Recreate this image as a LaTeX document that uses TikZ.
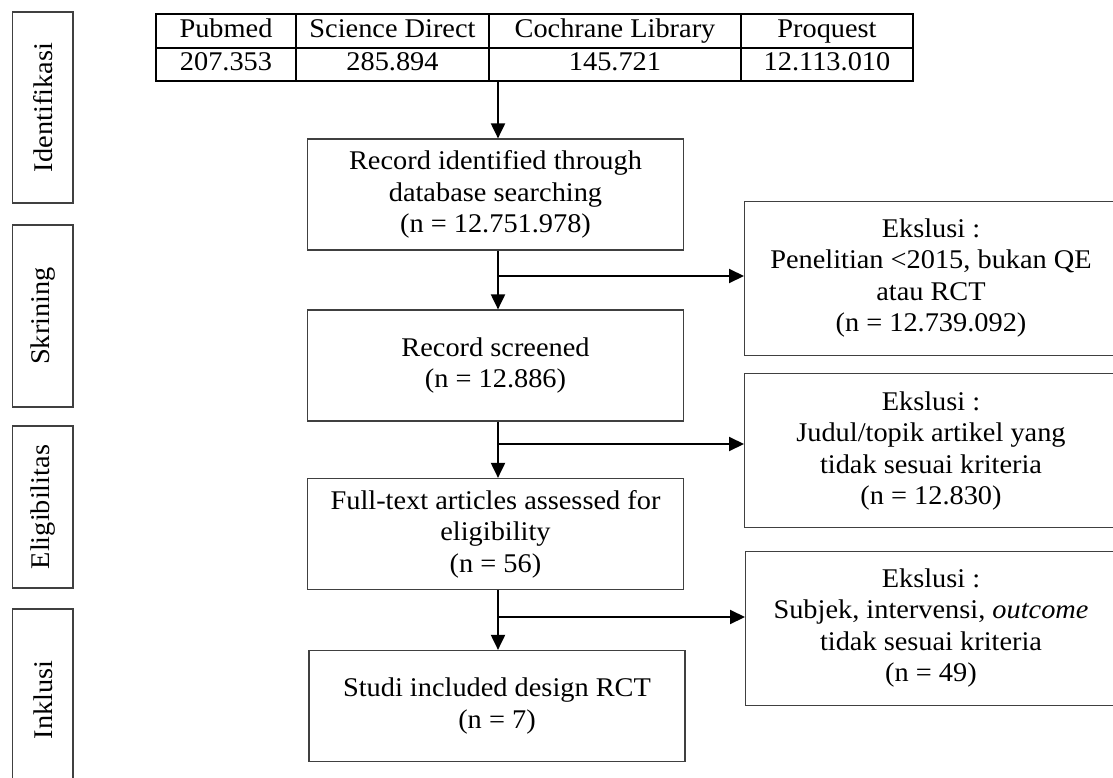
\documentclass[tikz,border=0pt]{standalone}
\usepackage{fontspec}
\setmainfont[FakeStretch=1.05]{Liberation Serif}
\usetikzlibrary{arrows.meta}

\tikzset{
  txt/.style={font=\fontsize{27}{31.5}\selectfont, align=center, inner sep=0pt},
  cell/.style={txt, text height=18pt, text depth=6pt},
  flowbox/.style={txt, draw=black!75, line width=1.2pt, minimum width=376pt, minimum height=111pt},
  sidebox/.style={txt, draw=black!75, line width=1.2pt, rotate=90, minimum height=60.5pt},
  exbox/.style={draw=black!75, line width=1.2pt, anchor=north west, minimum width=420pt, minimum height=154pt, inner sep=0pt},
  arr/.style={line width=2pt, -{Triangle[width=14pt,length=15pt]}},
}

\begin{document}
\begin{tikzpicture}[x=1pt,y=-1pt]
  \useasboundingbox (0,0) rectangle (1113,778);
  \clip (0,0) rectangle (1113,778);

  % side labels
  \node[sidebox, minimum width=191pt] (ident) at (42.8,107.5) {Identifikasi};
  \node[sidebox, minimum width=182pt] (skrin) at (42.8,316) {Skrining};
  \node[sidebox, minimum width=162pt] (elig) at (42.8,507) {Eligibilitas};
  \node[sidebox, minimum width=182pt] (inkl) at (42.8,700) {Inklusi};

  % table of databases
  \draw[line width=2pt] (156,14) rectangle (913,81);
  \draw[line width=2pt] (156,48) -- (913,48);
  \foreach \x in {296,489,741}
    \draw[line width=2pt] (\x,14) -- (\x,81);
  \node[cell] (pubmed) at (226,32) {Pubmed};
  \node[cell] (scidir) at (392.5,32) {Science Direct};
  \node[cell] (cochrane) at (615,32) {Cochrane Library};
  \node[cell] (proquest) at (827,32) {Proquest};
  \node[cell] (npubmed) at (226,65) {207.353};
  \node[cell] (nscidir) at (392.5,65) {285.894};
  \node[cell] (ncochrane) at (615,65) {145.721};
  \node[cell] (nproquest) at (827,65) {12.113.010};
  \coordinate (tab) at (498,81);

  % main flow
  \node[flowbox] (record) at (495.5,194.5) {Record identified through\\database searching\\(n = 12.751.978)};
  \node[flowbox] (screen) at (495.5,365.5) {Record screened\\(n = 12.886)};
  \node[flowbox] (full) at (495.5,534) {Full-text articles assessed for\\eligibility\\(n = 56)};
  \node[flowbox] (incl) at (497,706) {Studi included design RCT\\(n = 7)};

  % exclusions
  \node[exbox] (ex1) at (744,201) {};
  \node[exbox] (ex2) at (744,373) {};
  \node[exbox] (ex3) at (745,551) {};
  \node[txt] (ex1txt) at (931,278) {Ekslusi :\\Penelitian <2015, bukan QE\\atau RCT\\(n = 12.739.092)};
  \node[txt] (ex2txt) at (931,451) {Ekslusi :\\Judul/topik artikel yang\\tidak sesuai kriteria\\(n = 12.830)};
  \node[txt] (ex3txt) at (931,628) {Ekslusi :\\Subjek, intervensi, \textit{outcome}\\tidak sesuai kriteria\\(n = 49)};

  % arrows
  \draw[arr] (tab) -- (tab |- record.north);
  \draw[arr] (record.south -| tab) -- (screen.north -| tab);
  \draw[arr] (screen.south -| tab) -- (full.north -| tab);
  \draw[arr] (full.south -| tab) -- (incl.north -| tab);
  \coordinate (b1) at (498,276);
  \coordinate (b2) at (498,444);
  \coordinate (b3) at (498,617);
  \draw[arr] (b1) -- (b1 -| ex1.west);
  \draw[arr] (b2) -- (b2 -| ex2.west);
  \draw[arr] (b3) -- (b3 -| ex3.west);
\end{tikzpicture}
\end{document}
